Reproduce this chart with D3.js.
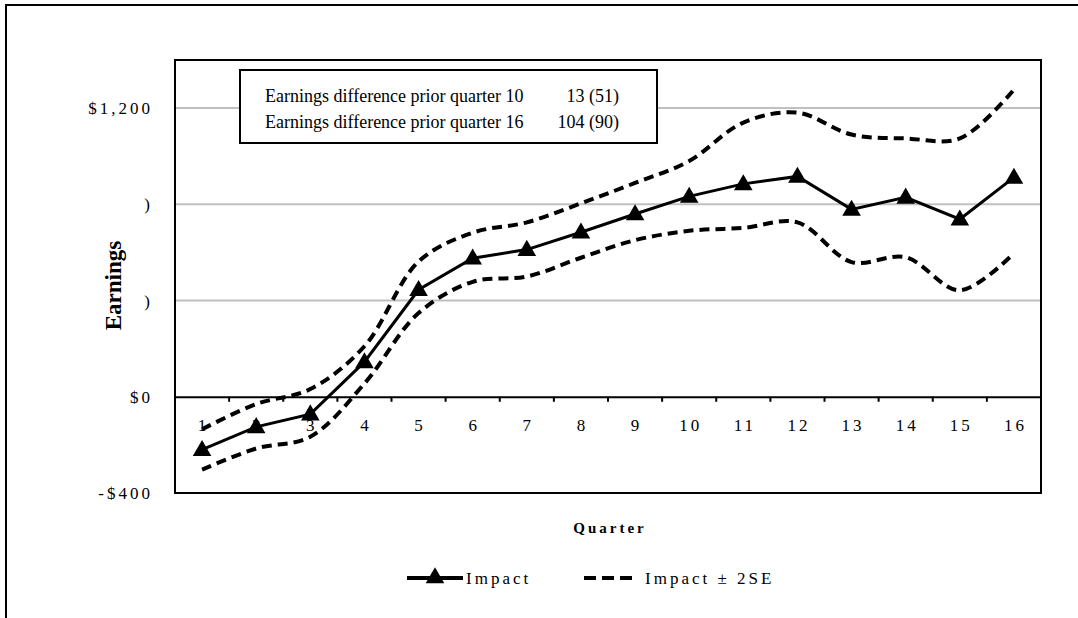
<!DOCTYPE html>
<html>
<head>
<meta charset="utf-8">
<script src="https://cdn.jsdelivr.net/npm/d3@7"></script>
<style>
  body { margin: 0; background: #fff; }
  svg text { font-family: "Liberation Serif", "Times New Roman", serif; fill: #000; }
</style>
</head>
<body>
<svg id="chart"></svg>
<script>
// data
const quarters = ["1", "2", "3", "4", "5", "6", "7", "8", "9", "10", "11", "12", "13", "14", "15", "16"];
const impact = [-220, -125, -72, 145, 445, 576, 612, 684, 760, 833, 885, 916, 779, 829, 738, 912];
const upperSE = [-135, -30, 32, 210, 562, 682, 725, 804, 889, 980, 1140, 1181, 1090, 1074, 1074, 1277];
const lowerSE = [-303, -215, -166, 55, 348, 478, 500, 578, 651, 690, 702, 725, 560, 580, 443, 597];
const yTicks = [-400, 0, 400, 800, 1200];
const yTickLabels = { "-400": "-$400", "0": "$0", "400": ")", "800": ")", "1200": "$1,200" };
const noteRows = [
    ["Earnings difference prior quarter 10", "13 (51)"],
    ["Earnings difference prior quarter 16", "104 (90)"]
];

const W = 1078, H = 618;
const margin = { top: 60, right: 37, bottom: 125, left: 175 };
const width = W - margin.left - margin.right;
const height = H - margin.top - margin.bottom;

const root = d3.select("#chart").attr("width", W).attr("height", H);

// outer frame (only top and left edges visible)
root.append("path")
    .attr("d", "M6,618 L6,5 L1078,5")
    .attr("fill", "none")
    .attr("stroke", "#000")
    .attr("stroke-width", 2);

const svg = root.append("g")
    .attr("transform", "translate(" + margin.left + "," + margin.top + ")");

let x = d3.scaleBand()
    .domain(quarters)
    .range([0, width]);

let y = d3.scaleLinear()
    .domain([-400, 1400])
    .range([height, 0]);

// gridlines
svg.append("g")
    .selectAll("line")
    .data(yTicks.filter(d => d > 0))
    .enter().append("line")
    .attr("x1", 0)
    .attr("x2", width)
    .attr("y1", d => y(d))
    .attr("y2", d => y(d))
    .attr("stroke", "#c0c0c0")
    .attr("stroke-width", 2);

// y tick labels
svg.append("g")
    .selectAll("text")
    .data(yTicks)
    .enter().append("text")
    .attr("x", -22)
    .attr("y", d => y(d))
    .attr("dy", "0.35em")
    .attr("text-anchor", "end")
    .style("font-size", "17px")
    .style("letter-spacing", "3px")
    .text(d => yTickLabels[d]);

// zero axis with category ticks
const xAxis = d3.axisBottom(x)
    .tickSize(0)
    .tickFormat("");
svg.append("g")
    .attr("transform", "translate(0," + y(0) + ")")
    .call(xAxis)
    .call(g => g.select(".domain").attr("stroke-width", 2));

svg.append("g")
    .selectAll("line")
    .data(quarters.slice(1))
    .enter().append("line")
    .attr("x1", d => x(d))
    .attr("x2", d => x(d))
    .attr("y1", y(0))
    .attr("y2", y(0) + 5)
    .attr("stroke", "#000")
    .attr("stroke-width", 2);

svg.append("g")
    .selectAll("text")
    .data(quarters)
    .enter().append("text")
    .attr("x", d => x(d) + x.bandwidth() / 2 + (d.length > 1 ? 1.5 : 0))
    .attr("y", y(0) + 34)
    .attr("text-anchor", "middle")
    .style("font-size", "17px")
    .style("letter-spacing", d => d.length > 1 ? "3px" : "0px")
    .text(d => d);

// plot border
svg.append("rect")
    .attr("width", width)
    .attr("height", height)
    .attr("fill", "none")
    .attr("stroke", "#000")
    .attr("stroke-width", 2);

const cx = (d, i) => x(quarters[i]) + x.bandwidth() / 2;

const dashLine = d3.line()
    .x(cx)
    .y(d => y(d))
    .curve(d3.curveCatmullRom);

[upperSE, lowerSE].forEach(series => {
    svg.append("path")
        .datum(series)
        .attr("d", dashLine)
        .attr("fill", "none")
        .attr("stroke", "#000")
        .attr("stroke-width", 4)
        .attr("stroke-dasharray", "10,6");
});

const mainLine = d3.line()
    .x(cx)
    .y(d => y(d));

svg.append("path")
    .datum(impact)
    .attr("d", mainLine)
    .attr("fill", "none")
    .attr("stroke", "#000")
    .attr("stroke-width", 3);

const tri = d3.symbol().type(d3.symbolTriangle).size(150);
svg.append("g")
    .selectAll("path")
    .data(impact)
    .enter().append("path")
    .attr("d", tri)
    .attr("transform", (d, i) => "translate(" + cx(d, i) + "," + (y(d) + 1) + ")")
    .attr("fill", "#000");

// note box
const note = root.append("g");
note.append("rect")
    .attr("x", 240)
    .attr("y", 70)
    .attr("width", 417)
    .attr("height", 73)
    .attr("fill", "#fff")
    .attr("stroke", "#000")
    .attr("stroke-width", 2);
noteRows.forEach((r, i) => {
    note.append("text")
        .attr("x", 265)
        .attr("y", 102 + i * 26)
        .style("font-size", "18px")
        .text(r[0]);
    note.append("text")
        .attr("x", 619)
        .attr("y", 102 + i * 26)
        .attr("text-anchor", "end")
        .style("font-size", "18px")
        .text(r[1]);
});

// axis titles
root.append("text")
    .attr("transform", "translate(121," + (margin.top + height / 2 + 9) + ") rotate(-90)")
    .attr("text-anchor", "middle")
    .style("font-size", "23px")
    .style("font-weight", "bold")
    .text("Earnings");

root.append("text")
    .attr("x", margin.left + width / 2 + 2)
    .attr("y", 533)
    .attr("text-anchor", "middle")
    .style("font-size", "15px")
    .style("font-weight", "bold")
    .style("letter-spacing", "3px")
    .text("Quarter");

// legend
const legend = root.append("g").attr("transform", "translate(0,578)");
legend.append("line")
    .attr("x1", 407).attr("x2", 463)
    .attr("stroke", "#000").attr("stroke-width", 4);
legend.append("path")
    .attr("d", tri)
    .attr("transform", "translate(435,0)")
    .attr("fill", "#000");
legend.append("text")
    .attr("x", 466)
    .attr("dy", "0.35em")
    .style("font-size", "17px")
    .style("letter-spacing", "3px")
    .text("Impact");
legend.append("line")
    .attr("x1", 584).attr("x2", 634)
    .attr("stroke", "#000").attr("stroke-width", 4)
    .attr("stroke-dasharray", "12,6");
legend.append("text")
    .attr("x", 645)
    .attr("dy", "0.35em")
    .style("font-size", "17px")
    .style("letter-spacing", "3px")
    .text("Impact ± 2SE");
</script>
</body>
</html>
